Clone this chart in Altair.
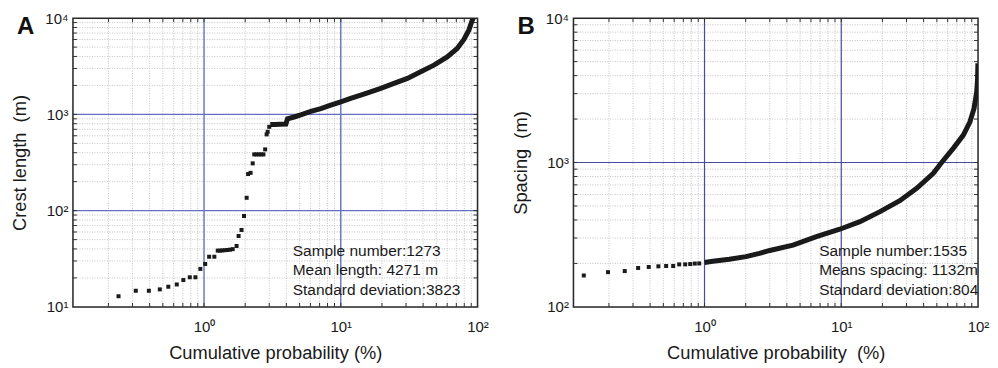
import math
import altair as alt
import pandas as pd

# ---------------- data ----------------
A_SPARSE_P = [0.237, 0.317, 0.395, 0.475, 0.548, 0.632, 0.706, 0.787, 0.865, 0.940,
              1.02, 1.09, 1.19, 1.26, 1.31, 1.36, 1.42, 1.48, 1.55, 1.62, 1.73,
              1.79, 1.88, 1.96, 2.05, 2.10, 2.19, 2.27, 2.33, 2.42, 2.52, 2.62,
              2.72, 2.80, 2.87, 2.92, 3.0]
A_SPARSE_V = [12.9, 14.7, 14.7, 15.2, 16.2, 17.1, 19.0, 20.3, 20.3, 24.8,
              27.9, 33.2, 33.2, 38.4, 38.4, 38.6, 38.8, 39.0, 39.3, 39.8, 42.9,
              54.5, 63, 88, 136, 240, 247, 310, 384, 384, 384, 384,
              384, 433, 620, 659, 743]
A_CURVE_P = [3.05, 3.3, 3.6, 3.97, 4.08, 4.56, 5.1, 6.04, 7.15, 8.45, 10, 11.8, 14,
             15.7, 19.6, 24.5, 30.7, 38.4, 48, 60, 71, 79.5, 86.4, 91.5, 93.6]
A_CURVE_V = [787, 787, 790, 795, 900, 940, 990, 1075, 1150, 1250, 1352, 1466, 1585,
             1675, 1862, 2099, 2366, 2770, 3250, 3963, 4842, 6010, 7506, 9530, 10000]

B_SPARSE_P = [0.131, 0.197, 0.261, 0.327, 0.391, 0.460, 0.524, 0.590, 0.653, 0.722,
              0.786, 0.849, 0.915]
B_SPARSE_V = [165, 174, 177, 186, 189, 191, 192, 192, 197, 197, 198, 199.5, 200]
B_CURVE_P = [1.0, 1.15, 1.52, 2.01, 2.52, 3.0, 4.44, 6.58, 9.75, 13.7, 19.2, 26.8,
             35.6, 47.1, 54.2, 65.9, 78.1, 87.3, 93.5, 97.8, 99.3, 99.8]
B_CURVE_V = [203, 207, 214, 223, 235, 246, 268, 307, 345, 389, 457, 544,
             663, 841, 1000, 1253, 1549, 1914, 2371, 3090, 3828, 4860]

A_ANNOT = ["Sample number:1273", "Mean length: 4271 m", "Standard deviation:3823"]
B_ANNOT = ["Sample number:1535", "Means spacing: 1132m", "Standard deviation:804"]

X_TITLE_A = "Cumulative probability (%)"
X_TITLE_B = "Cumulative probability\u00a0 (%)"
Y_TITLE_A = "Crest length\u00a0 (m)"
Y_TITLE_B = "Spacing\u00a0 (m)"

X_DOMAIN = [0.11, 100]
A_Y_DOMAIN = [10, 10000]
B_Y_DOMAIN = [100, 10000]

# ---------------- layout / style ----------------
W, H = 405, 289
FONT = "Liberation Sans"
INK = "#1a1a1a"
LABEL_EXPR = "'10' + ['\u2070','\u00b9','\u00b2','\u00b3','\u2074','\u2075'][round(log(datum.value)/LN10)]"


def minor(decades):
    return [m * 10.0 ** d for d in decades for m in range(2, 10)]


def panel(letter, sp, sv, cp, cv, ydom, xtitle, ytitle, annot, blue, blue_w,
          xdec, ydec, ymin_dec, ann_x):
    xs = alt.Scale(type="log", domain=X_DOMAIN, nice=False)
    ys = alt.Scale(type="log", domain=ydom, nice=False)
    xaxis = alt.Axis(values=[1, 10, 100], labelExpr=LABEL_EXPR, ticks=False, grid=False,
                     domain=False, labelFont=FONT, labelFontSize=15, labelPadding=13,
                     labelColor=INK, labelFlush=False, labelOverlap=False,
                     title=xtitle, titleFont=FONT, titleFontSize=18.3,
                     titleFontWeight="normal", titleColor=INK, titleY=47,
                     titleBaseline="middle")
    yvals = [10.0 ** k for k in range(int(round(math.log10(ydom[0]))), 5)]
    yaxis = alt.Axis(values=yvals, labelExpr=LABEL_EXPR, ticks=False, grid=False,
                     domain=False, labelFont=FONT, labelFontSize=15, labelPadding=5,
                     labelColor=INK, labelFlush=False, labelOverlap=False,
                     labelBaseline="middle",
                     title=ytitle, titleFont=FONT, titleFontSize=18.3,
                     titleFontWeight="normal", titleColor=INK, titleX=-52,
                     titleBaseline="middle")

    def X():
        return alt.X("x:Q", scale=xs, axis=xaxis)

    def Y():
        return alt.Y("y:Q", scale=ys, axis=yaxis)

    xminor = [v for v in minor([-1, 0, 1]) if X_DOMAIN[0] < v < X_DOMAIN[1]]
    yminor = minor(ymin_dec)

    layers = []
    # dotted minor grid
    layers.append(alt.Chart(pd.DataFrame({"x": xminor})).mark_rule(
        color="#c4c4c4", strokeWidth=1, strokeDash=[1, 1.5]).encode(x=X()))
    layers.append(alt.Chart(pd.DataFrame({"y": yminor})).mark_rule(
        color="#c4c4c4", strokeWidth=1, strokeDash=[1, 1.5]).encode(y=Y()))
    # blue decade lines
    layers.append(alt.Chart(pd.DataFrame({"x": xdec})).mark_rule(
        color=blue, strokeWidth=blue_w).encode(x=X()))
    layers.append(alt.Chart(pd.DataFrame({"y": ydec})).mark_rule(
        color=blue, strokeWidth=blue_w).encode(y=Y()))
    # inward ticks on all four sides
    xt = pd.DataFrame({"x": xminor + xdec})
    yt = pd.DataFrame({"y": yminor + ydec})
    tk = dict(color="#333", strokeWidth=1)
    layers.append(alt.Chart(xt).mark_rule(**tk).encode(x=X(), y=alt.value(H), y2=alt.value(H - 4)))
    layers.append(alt.Chart(xt).mark_rule(**tk).encode(x=X(), y=alt.value(0), y2=alt.value(4)))
    layers.append(alt.Chart(yt).mark_rule(**tk).encode(y=Y(), x=alt.value(0), x2=alt.value(4)))
    layers.append(alt.Chart(yt).mark_rule(**tk).encode(y=Y(), x=alt.value(W), x2=alt.value(W - 4)))
    # frame
    layers.append(alt.Chart(pd.DataFrame({"t": [0]})).mark_rect(
        fill=None, stroke="#2a2a2a", strokeWidth=1.5).encode(
        x=alt.value(0), x2=alt.value(W), y=alt.value(0), y2=alt.value(H)))
    # data
    layers.append(alt.Chart(pd.DataFrame({"x": cp, "y": cv})).mark_line(
        color=INK, strokeWidth=5, strokeCap="butt", clip=True).encode(x=X(), y=Y()))
    layers.append(alt.Chart(pd.DataFrame({"x": sp, "y": sv})).mark_square(
        size=16, color=INK, opacity=1).encode(x=X(), y=Y()))
    # annotation lines
    for i, t in enumerate(annot):
        layers.append(alt.Chart(pd.DataFrame({"t": [t]})).mark_text(
            align="left", baseline="middle", font=FONT, fontSize=15.5, color=INK).encode(
            x=alt.value(ann_x), y=alt.value(233 + i * 19.5), text="t:N"))
    # panel letter
    layers.append(alt.Chart(pd.DataFrame({"t": [letter]})).mark_text(
        align="left", baseline="alphabetic", font=FONT, fontSize=24, fontWeight="bold",
        color="#111").encode(x=alt.value(-56), y=alt.value(16), text="t:N"))
    return alt.layer(*layers).properties(width=W, height=H)


pa = panel("A", A_SPARSE_P, A_SPARSE_V, A_CURVE_P, A_CURVE_V, A_Y_DOMAIN,
           X_TITLE_A, Y_TITLE_A, A_ANNOT, "#6470c2", 1.4, [1, 10], [100, 1000],
           [1, 2, 3], 220)
pb = panel("B", B_SPARSE_P, B_SPARSE_V, B_CURVE_P, B_CURVE_V, B_Y_DOMAIN,
           X_TITLE_B, Y_TITLE_B, B_ANNOT, "#4a4aa0", 1.2, [1, 10], [1000],
           [2, 3], 246)

chart = alt.hconcat(pa, pb, spacing=96, bounds="flush").properties(
    padding={"left": 2, "top": 2, "right": 0, "bottom": 0}
).configure_view(stroke=None).configure(background="white")

chart.save("out.html", embed_options={"renderer": "svg", "actions": False})
